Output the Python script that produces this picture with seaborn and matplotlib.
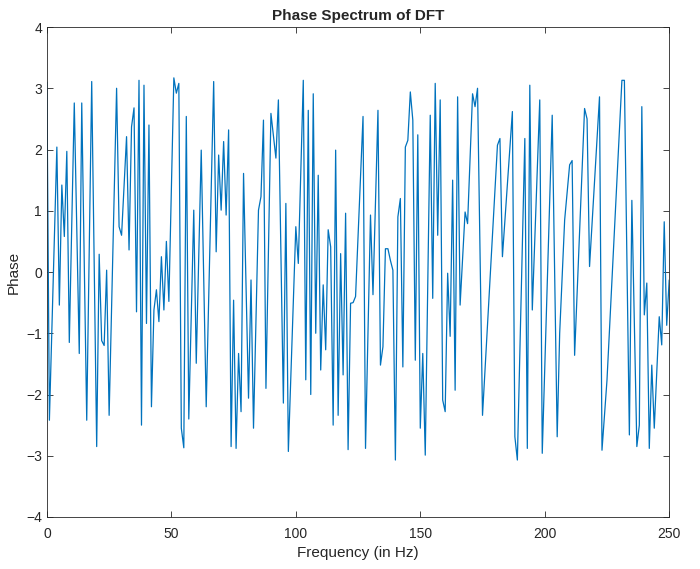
import numpy as np
import pandas as pd
import matplotlib
matplotlib.use("Agg")
import matplotlib.pyplot as plt
import seaborn as sns

# turning points of the phase curve
freq = [0, 1, 4, 5, 6, 7, 8, 9, 11, 13, 14, 16, 18, 20, 21, 22, 23, 24, 25,
        28, 29, 30, 32, 33, 34, 35, 36, 37, 38, 39, 40, 41, 42, 43, 44, 45, 46,
        47, 48, 49, 51, 52, 53, 54, 55, 56, 57, 59, 60, 62, 64, 67, 68, 69, 70,
        71, 72, 73, 74, 75, 76, 77, 78, 79, 81, 82, 83, 85, 86, 87, 88, 90, 92,
        93, 95, 96, 97, 100, 101, 103, 104, 105, 106, 107, 108, 109, 110, 111,
        112, 113, 114, 115, 116, 117, 118, 119, 120, 121, 122, 123, 124, 127,
        128, 130, 131, 133, 134, 135, 136, 137, 138, 139, 140, 141, 142, 143,
        144, 145, 146, 147, 148, 149, 150, 151, 152, 154, 155, 156, 157, 158,
        159, 160, 161, 162, 163, 164, 165, 166, 168, 169, 171, 172, 173, 175,
        181, 182, 183, 187, 188, 189, 192, 193, 194, 195, 198, 199, 203, 205,
        206, 208, 210, 211, 212, 216, 217, 218, 222, 223, 225, 231, 232, 234,
        235, 237, 238, 239, 240, 241, 242, 243, 244, 246, 247, 248, 249, 250]
phase = [3.10, -2.42, 2.04, -0.54, 1.42, 0.58, 1.97, -1.15, 2.76, -1.33, 2.76,
         -2.42, 3.11, -2.85, 0.29, -1.12, -1.20, 0.03, -2.34,
         3.00, 0.74, 0.60, 2.21, 0.36, 2.37, 2.68, -0.65, 3.13, -2.50, 3.05,
         -0.84, 2.40, -2.20, -0.62, -0.29, -0.81, 0.25,
         -0.62, 0.50, -0.48, 3.17, 2.92, 3.08, -2.55, -2.87, 2.54, -2.40, 1.01,
         -1.49, 1.99, -2.20, 3.11, 0.33, 1.91, 1.01,
         2.13, 0.93, 2.32, -2.85, -0.46, -2.88, -1.33, -2.28, 1.61, -2.06, -0.13,
         -2.55, 1.01, 1.23, 2.48, -1.90, 2.59, 1.86,
         2.81, -2.14, 1.12, -2.93, 0.74, 0.14, 3.13, -1.76, 2.64, -2.00, 2.91,
         -1.00, 1.58, -1.60, -0.21,
         -1.27, 0.69, 0.41, -2.50, 1.99, -2.34, 0.30, -1.68, 0.96, -2.90, -0.51,
         -0.50, -0.40, 2.54,
         -2.88, 0.93, -0.37, 2.64, -1.52, -1.22, 0.38, 0.38, 0.19, 0.03, -3.07,
         0.90, 1.20, -1.55,
         2.04, 2.15, 2.94, 2.48, -1.44, 2.24, -2.55, -1.33, -2.99, 2.56, -0.43,
         3.08, 0.60, 2.81,
         -2.09, -2.28, -0.02, -1.05, 1.50, -1.93, 2.86, -0.54, 0.98, 0.79, 2.91,
         2.70, 3.00, -2.34,
         2.07, 2.18, 0.25, 2.62, -2.69, -3.07, 2.18, -2.88, 3.05, -0.62, 2.81,
         -2.96, 2.56, -2.69,
         -1.00, 0.85, 1.75, 1.82, -1.36, 2.67, 2.50, 0.09, 2.86, -2.91, -1.77,
         3.13, 3.13, -2.66,
         1.17, -2.85, -2.50, 2.70, -0.70, -0.18, -2.88, -1.52, -2.55, -0.73,
         -1.19, 0.82, -0.87, -0.13]

xticks = [0, 50, 100, 150, 200, 250]
yticks = [-4, -3, -2, -1, 0, 1, 2, 3, 4]

df = pd.DataFrame({"freq": freq, "phase": phase})

sns.set_theme(style="white")
plt.rcParams["font.family"] = ["Liberation Sans", "DejaVu Sans"]

fig = plt.figure(figsize=(7, 5.69), dpi=100)
ax = fig.add_axes([0.067, 0.0914, 0.889, 0.8611])
sns.lineplot(data=df, x="freq", y="phase", color="#0072BD", linewidth=0.9,
             sort=False, ax=ax)

ax.set_xlim(0, 250)
ax.set_ylim(-4, 4)
ax.set_xticks(xticks)
ax.set_yticks(yticks)
ax.tick_params(direction="in", length=4, width=0.6, colors="#262626",
               labelsize=10, top=True, right=True, bottom=True, left=True)
ax.tick_params(axis="x", pad=7.5)
for s in ax.spines.values():
    s.set_color("#262626")
    s.set_linewidth(0.6)

ax.set_title("Phase Spectrum of DFT", fontsize=11, fontweight="bold", pad=5)
ax.set_xlabel("Frequency (in Hz)", fontsize=11, color="#262626", labelpad=3)
ax.set_ylabel("Phase", fontsize=11, color="#262626", labelpad=4)

fig.savefig("out.png", dpi=100)
